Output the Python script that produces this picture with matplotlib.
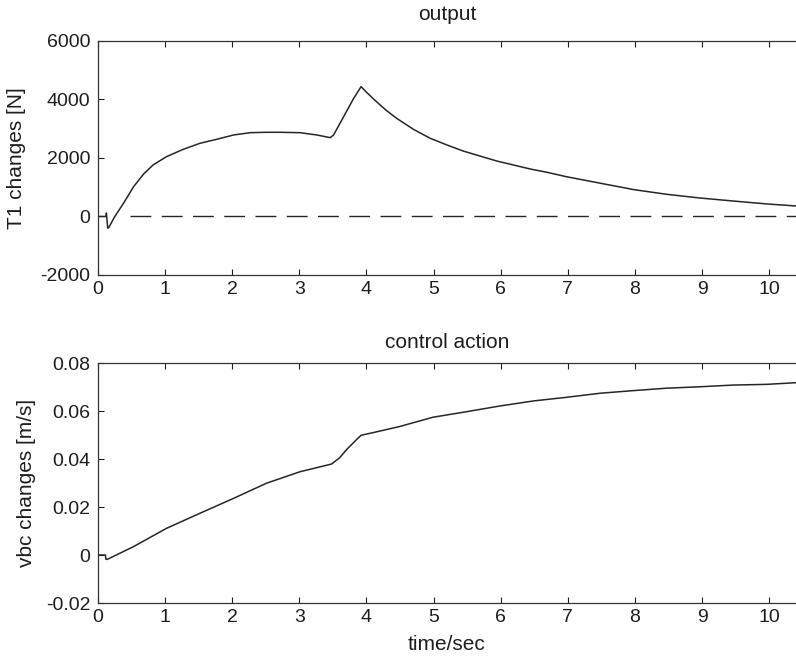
import matplotlib
matplotlib.use("Agg")
import matplotlib.pyplot as plt

plt.rcParams['font.family'] = ['Liberation Sans', 'DejaVu Sans']
plt.rcParams['axes.unicode_minus'] = False

# ---- data ----
t_out = [0.0, 0.12, 0.125, 0.145, 0.16, 0.25, 0.38, 0.53, 0.68, 0.82, 1.02, 1.27,
         1.52, 1.77, 2.02, 2.27, 2.51, 2.71, 3.01, 3.26, 3.46, 3.51, 3.66, 3.81, 3.92,
         4.00, 4.10, 4.20, 4.30, 4.45, 4.70, 4.95, 5.20, 5.44, 5.69, 5.94, 6.19, 6.44,
         6.69, 6.98, 7.48, 7.98, 8.47, 8.97, 9.46, 9.96, 10.4]
T1_changes = [0, 0, 120, -400, -380, 0, 451, 1019, 1453, 1761, 2045, 2297,
              2503, 2640, 2787, 2866, 2879, 2879, 2866, 2787, 2696, 2787, 3413, 4042, 4439,
              4250, 4030, 3820, 3620, 3356, 2981, 2673, 2445, 2239, 2068, 1898, 1761, 1624,
              1511, 1360, 1140, 920, 760, 632, 530, 430, 360]

ref_t = [0.48, 10.4]
ref_val = [0, 0]

t_ctl = [0.0, 0.11, 0.12, 0.14, 0.53, 1.02, 1.52, 2.02, 2.51, 3.01, 3.48, 3.60, 3.70,
         3.82, 3.92, 4.10, 4.49, 4.99, 5.49, 5.99, 6.49, 6.98, 7.48, 7.98, 8.47, 8.97,
         9.46, 9.96, 10.4]
vbc_changes = [0, 0, -0.0018, -0.0018, 0.0035, 0.0111, 0.0174, 0.0236, 0.0299, 0.0347,
               0.0379, 0.0405, 0.0438, 0.0472, 0.0499, 0.0510, 0.0535, 0.0574, 0.0597,
               0.0621, 0.0642, 0.0657, 0.0674, 0.0685, 0.0695, 0.0701, 0.0708, 0.0711,
               0.0718]

x_ticks = list(range(0, 11))
top_yticks = [-2000, 0, 2000, 4000, 6000]
bot_yticks = [-0.02, 0, 0.02, 0.04, 0.06, 0.08]
bot_yticklabels = ['-0.02', '0', '0.02', '0.04', '0.06', '0.08']

W, H = 796, 665
fig = plt.figure(figsize=(W / 100, H / 100), dpi=100)
fig.patch.set_facecolor('white')

def px_axes(left, top, right, bottom):
    return fig.add_axes([left / W, 1 - bottom / H, (right - left) / W, (bottom - top) / H])

ax1 = px_axes(98, 41, 796, 275)
ax2 = px_axes(98, 363, 796, 603)

line_col = '#262626'
text_col = '#1e1e1e'
fs_tick = 14
fs_lab = 15

for ax in (ax1, ax2):
    ax.set_xlim(0, 10.4)
    ax.set_xticks(x_ticks)
    ax.tick_params(direction='in', length=4, width=0.8, top=True, right=False,
                   labelsize=fs_tick, colors=text_col)
    ax.tick_params(axis='y', pad=5.5)
    ax.tick_params(axis='x', pad=4.5)
    for s in ('left', 'top', 'bottom'):
        ax.spines[s].set_color('#333333')
        ax.spines[s].set_linewidth(0.9)
    ax.spines['right'].set_visible(False)

ax1.plot(t_out, T1_changes, color=line_col, lw=1.1)
ax1.plot(ref_t, ref_val, color=line_col, lw=1.0, dashes=(15, 7.5))
ax1.set_ylim(-2000, 6000)
ax1.set_yticks(top_yticks)
ax1.set_title('output', fontsize=fs_lab, color=text_col, pad=15)
ax1.set_ylabel('T1 changes [N]', fontsize=fs_lab, color=text_col)
ax1.yaxis.set_label_coords(-0.103, 0.5)

ax2.plot(t_ctl, vbc_changes, color=line_col, lw=1.1)
ax2.set_ylim(-0.02, 0.08)
ax2.set_yticks(bot_yticks)
ax2.set_yticklabels(bot_yticklabels)
ax2.set_title('control action', fontsize=fs_lab, color=text_col, pad=11)
ax2.set_ylabel('vbc changes [m/s]', fontsize=fs_lab, color=text_col)
ax2.yaxis.set_label_coords(-0.089, 0.5)
ax2.set_xlabel('time/sec', fontsize=fs_lab, color=text_col, labelpad=6)

fig.savefig('out.png', dpi=100, facecolor='white')
